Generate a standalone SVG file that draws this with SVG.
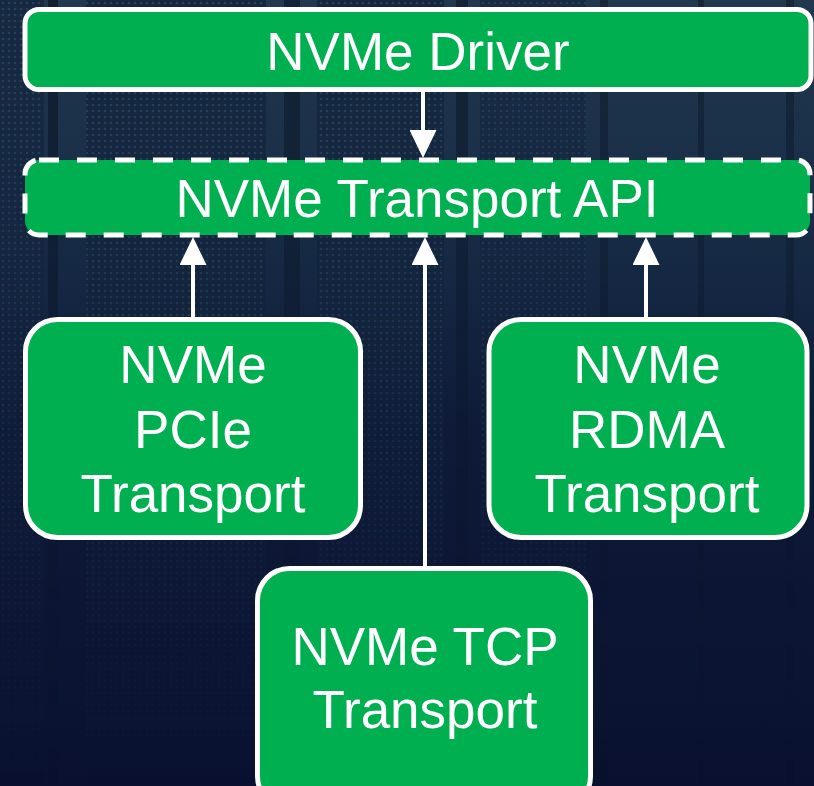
<svg xmlns="http://www.w3.org/2000/svg" width="814" height="786" viewBox="0 0 814 786">
  <defs>
    <style>
      .box { fill: #00b050; stroke: #ffffff; stroke-width: 5; }
      .dashed { stroke-dasharray: 20 18; }
      .lbl { font-family: "Liberation Sans", Arial, sans-serif; font-size: 53px; fill: #ffffff; text-anchor: middle; }
      .conn { stroke: #ffffff; stroke-width: 4; fill: none; }
      .rail { fill: #0a1526; }
    </style>
    <marker id="head" viewBox="0 0 28 27" refX="0" refY="13.5" markerWidth="28" markerHeight="27" markerUnits="userSpaceOnUse" orient="auto">
      <path d="M0,0 L28,13.5 L0,27 Z" fill="#ffffff"/>
    </marker>
    <!-- backdrop: dark server room, bluish at the top fading to navy -->
    <linearGradient id="sky" x1="0" y1="0" x2="0" y2="1">
      <stop offset="0" stop-color="#22384f"/>
      <stop offset="0.3" stop-color="#172b45"/>
      <stop offset="0.55" stop-color="#0e1a38"/>
      <stop offset="1" stop-color="#0a1130"/>
    </linearGradient>
    <linearGradient id="fade" x1="0" y1="0" x2="0" y2="1">
      <stop offset="0" stop-color="#fff" stop-opacity="1"/>
      <stop offset="0.45" stop-color="#fff" stop-opacity="0.6"/>
      <stop offset="0.8" stop-color="#fff" stop-opacity="0.15"/>
      <stop offset="1" stop-color="#fff" stop-opacity="0"/>
    </linearGradient>
    <mask id="fadeMask">
      <rect x="0" y="0" width="814" height="786" fill="url(#fade)"/>
    </mask>
    <!-- perforated rack door -->
    <pattern id="perf" width="6" height="6" patternUnits="userSpaceOnUse">
      <rect width="6" height="6" fill="#12233a"/>
      <circle cx="3" cy="3" r="1.3" fill="#2a4463"/>
    </pattern>
  </defs>

  <rect x="0" y="0" width="814" height="786" fill="url(#sky)"/>

  <!-- rack fronts -->
  <g mask="url(#fadeMask)">
    <rect x="0" y="0" width="44" height="786" fill="url(#perf)" opacity="0.7"/>
    <rect x="86" y="0" width="180" height="786" fill="url(#perf)" opacity="0.8"/>
    <rect x="317" y="0" width="127" height="786" fill="url(#perf)" opacity="0.8"/>
    <rect x="480" y="0" width="106" height="786" fill="url(#perf)" opacity="0.6"/>
    <rect class="rail" x="48" y="0" width="10" height="786" opacity="0.7"/>
    <rect class="rail" x="284" y="0" width="16" height="786" opacity="0.6"/>
    <rect class="rail" x="456" y="0" width="12" height="786" opacity="0.6"/>
    <rect class="rail" x="600" y="0" width="8" height="786" opacity="0.5"/>
    <rect class="rail" x="698" y="0" width="6" height="786" opacity="0.5"/>
    <rect class="rail" x="786" y="0" width="8" height="786" opacity="0.5"/>
  </g>

  <!-- connectors -->
  <g id="connectors">
    <line class="conn" x1="423" y1="92" x2="423" y2="130" marker-end="url(#head)"/>
    <line class="conn" x1="193" y1="318" x2="193" y2="265" marker-end="url(#head)"/>
    <line class="conn" x1="425" y1="567" x2="425" y2="265" marker-end="url(#head)"/>
    <line class="conn" x1="646" y1="318" x2="646" y2="265" marker-end="url(#head)"/>
  </g>

  <g id="nvme-driver">
    <rect class="box" x="25" y="9.5" width="786" height="80" rx="14"/>
    <text class="lbl" x="418" y="70" font-size="52">NVMe Driver</text>
  </g>

  <g id="transport-api">
    <rect class="box dashed" x="25" y="160" width="785" height="75" rx="14"/>
    <text class="lbl" x="417" y="217">NVMe Transport API</text>
  </g>

  <g id="pcie-transport">
    <rect class="box" x="25.5" y="319.5" width="335" height="218" rx="32"/>
    <text class="lbl" x="193" y="383">NVMe</text>
    <text class="lbl" x="193" y="448">PCIe</text>
    <text class="lbl" x="193" y="512">Transport</text>
  </g>

  <g id="rdma-transport">
    <rect class="box" x="489" y="319.5" width="318" height="218" rx="32"/>
    <text class="lbl" x="647" y="383">NVMe</text>
    <text class="lbl" x="647" y="448">RDMA</text>
    <text class="lbl" x="647" y="512">Transport</text>
  </g>

  <g id="tcp-transport">
    <rect class="box" x="257.5" y="568.5" width="333" height="240" rx="32"/>
    <text class="lbl" x="425" y="665">NVMe TCP</text>
    <text class="lbl" x="425" y="728">Transport</text>
  </g>
</svg>
